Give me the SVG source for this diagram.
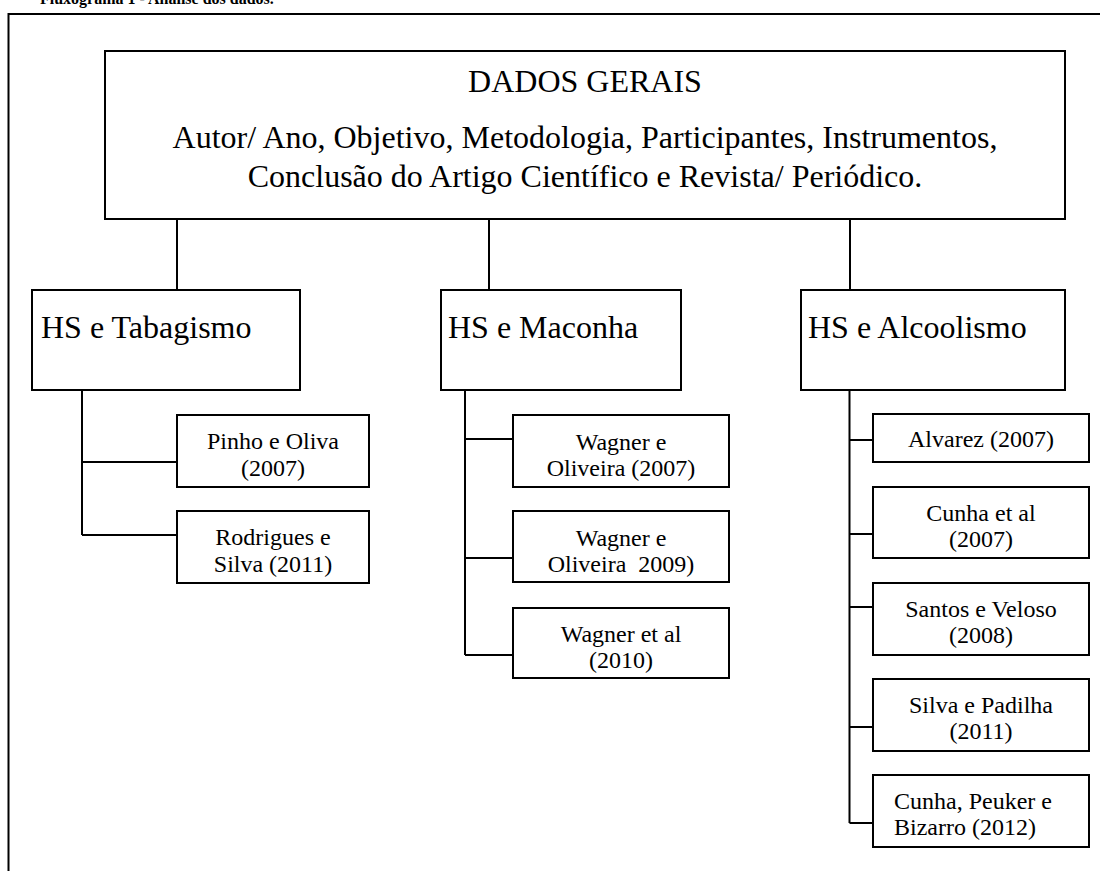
<svg xmlns="http://www.w3.org/2000/svg" width="1100" height="871" viewBox="0 0 1100 871">
<style>
.box{fill:#fff;stroke:#000;stroke-width:2}
.ln{fill:none;stroke:#000;stroke-width:2}
.t{font-family:"Liberation Serif","Times New Roman",serif;fill:#000}
.big{font-size:32px}
.sm{font-size:24px}
.c{text-anchor:middle}
</style>
<rect width="1100" height="871" fill="#fff"/>
<text class="t" x="40" y="4" font-size="16" font-weight="bold">Fluxograma 1 - Análise dos dados.</text>
<path class="ln" d="M8.5 871 V14 H1100"/>
<g id="connectors">
<path class="ln" d="M177 219 V290 M489 219 V290 M850 219 V290"/>
<path class="ln" d="M82 390 V535 M82 462 H177 M82 535 H177"/>
<path class="ln" d="M465 390 V655 M465 439 H513 M465 558 H513 M465 655 H513"/>
<path class="ln" d="M849.5 390 V823 M849.5 440 H873 M849.5 534 H873 M849.5 607 H873 M849.5 727 H873 M849.5 823 H873"/>
</g>
<g id="dados-gerais">
<rect class="box" x="105" y="51" width="960" height="168"/>
<text class="t big c" x="585" y="92">DADOS GERAIS</text>
<text class="t big c" x="585" y="148">Autor/ Ano, Objetivo, Metodologia, Participantes, Instrumentos,</text>
<text class="t big c" x="585" y="187">Conclusão do Artigo Científico e Revista/ Periódico.</text>
</g>
<g id="hs-tabagismo">
<rect class="box" x="32" y="290" width="268" height="100"/>
<text class="t big" x="41" y="338">HS e Tabagismo</text>
</g>
<g id="hs-maconha">
<rect class="box" x="441" y="290" width="240" height="100"/>
<text class="t big" x="448" y="338">HS e Maconha</text>
</g>
<g id="hs-alcoolismo">
<rect class="box" x="801" y="290" width="264" height="100"/>
<text class="t big" x="808" y="338">HS e Alcoolismo</text>
</g>
<g id="pinho-oliva">
<rect class="box" x="177" y="415" width="192" height="72"/>
<text class="t sm c" x="273" y="449">Pinho e Oliva</text>
<text class="t sm c" x="273" y="476">(2007)</text>
</g>
<g id="rodrigues-silva">
<rect class="box" x="177" y="511" width="192" height="72"/>
<text class="t sm c" x="273" y="545">Rodrigues e</text>
<text class="t sm c" x="273" y="572">Silva (2011)</text>
</g>
<g id="wagner-2007">
<rect class="box" x="513" y="415" width="216" height="72"/>
<text class="t sm c" x="621" y="450">Wagner e</text>
<text class="t sm c" x="621" y="476">Oliveira (2007)</text>
</g>
<g id="wagner-2009">
<rect class="box" x="513" y="511" width="216" height="71"/>
<text class="t sm c" x="621" y="546">Wagner e</text>
<text class="t sm c" x="621" y="572" xml:space="preserve">Oliveira  2009)</text>
</g>
<g id="wagner-2010">
<rect class="box" x="513" y="608" width="216" height="70"/>
<text class="t sm c" x="621" y="642">Wagner et al</text>
<text class="t sm c" x="621" y="668">(2010)</text>
</g>
<g id="alvarez">
<rect class="box" x="873" y="414" width="216" height="48"/>
<text class="t sm c" x="981" y="447">Alvarez (2007)</text>
</g>
<g id="cunha-2007">
<rect class="box" x="873" y="487" width="216" height="71"/>
<text class="t sm c" x="981" y="521">Cunha et al</text>
<text class="t sm c" x="981" y="547">(2007)</text>
</g>
<g id="santos-veloso">
<rect class="box" x="873" y="583" width="216" height="72"/>
<text class="t sm c" x="981" y="617">Santos e Veloso</text>
<text class="t sm c" x="981" y="643">(2008)</text>
</g>
<g id="silva-padilha">
<rect class="box" x="873" y="679" width="216" height="72"/>
<text class="t sm c" x="981" y="713">Silva e Padilha</text>
<text class="t sm c" x="981" y="739">(2011)</text>
</g>
<g id="cunha-peuker">
<rect class="box" x="873" y="775" width="216" height="72"/>
<text class="t sm" x="894" y="809">Cunha, Peuker e</text>
<text class="t sm" x="894" y="835">Bizarro (2012)</text>
</g>
</svg>
